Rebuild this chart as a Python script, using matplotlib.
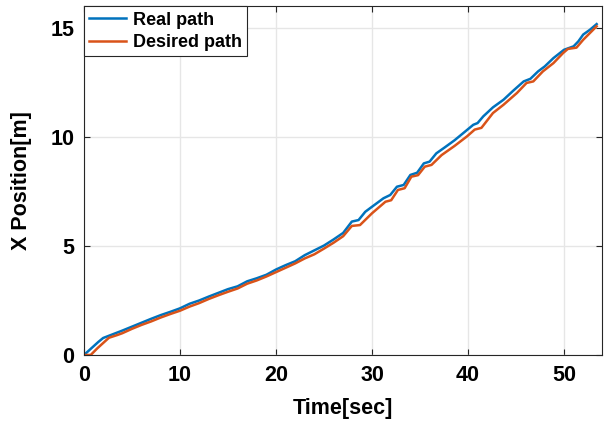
import numpy as np
import matplotlib
matplotlib.use("Agg")
import matplotlib.pyplot as plt

# Real path
t_real = [0, 0.5, 1, 1.5, 2, 3, 4, 5, 6, 7, 8, 9, 10, 11, 12, 13, 14, 15, 16, 17,
          18, 19, 20, 21, 22, 23, 24, 25, 26, 27, 27.9, 28.6, 29.3, 30, 31.2, 31.9,
          32.6, 33.3, 34, 34.7, 35.4, 36, 36.7, 37.6, 38.6, 39.7, 40.55, 41, 41.6,
          42.6, 43.7, 44.7, 45.8, 46.5, 47.3, 48, 48.9, 50, 51, 51.5, 52, 52.7, 53.4]
x_real = [0, 0.2, 0.4, 0.6, 0.78, 0.95, 1.12, 1.3, 1.48, 1.66, 1.83, 1.98, 2.14,
          2.35, 2.5, 2.68, 2.85, 3.02, 3.15, 3.38, 3.52, 3.68, 3.92, 4.12, 4.3,
          4.58, 4.8, 5.02, 5.3, 5.6, 6.12, 6.19, 6.57, 6.8, 7.19, 7.34, 7.72, 7.8,
          8.26, 8.36, 8.79, 8.87, 9.25, 9.53, 9.85, 10.25, 10.56, 10.64, 10.95,
          11.36, 11.71, 12.12, 12.55, 12.67, 13.01, 13.24, 13.62, 14.0, 14.16,
          14.39, 14.7, 14.92, 15.18]

# Desired path
t_des = [0, 0.7, 1.4, 2, 2.6, 3.5, 4, 5, 6, 7, 8, 9, 10, 11, 12, 13, 14, 15, 16,
         17, 18, 19, 20, 21, 22, 23, 24, 25, 26, 27, 27.9, 28.75, 30, 31.4, 32,
         32.7, 33.4, 34.1, 34.8, 35.5, 36.2, 37.25, 38.6, 39.9, 40.7, 41.4, 42.6,
         43.7, 45.1, 46.1, 46.8, 47.8, 48.9, 49.9, 50.4, 51.3, 52, 52.7, 53.4]
x_des = [0, 0, 0.31, 0.55, 0.79, 0.92, 1.0, 1.2, 1.38, 1.54, 1.72, 1.88, 2.03,
         2.22, 2.38, 2.57, 2.74, 2.9, 3.05, 3.27, 3.42, 3.6, 3.8, 4.0, 4.2, 4.43,
         4.62, 4.88, 5.15, 5.45, 5.92, 5.96, 6.5, 7.03, 7.1, 7.57, 7.65, 8.18,
         8.25, 8.64, 8.72, 9.17, 9.59, 10.03, 10.34, 10.42, 11.1, 11.48, 12.02,
         12.48, 12.55, 13.01, 13.39, 13.85, 14.04, 14.1, 14.46, 14.77, 15.08]

plt.rcParams['font.family'] = ['Liberation Sans', 'DejaVu Sans']
plt.rcParams['font.weight'] = 'bold'

fig = plt.figure(figsize=(6.05, 4.23), dpi=100)
ax = fig.add_axes([0.1388, 0.1608, 0.8569, 0.8245])

ax.plot(t_real, x_real, color='#0072BD', linewidth=1.8, label='Real path')
ax.plot(t_des, x_des, color='#D95319', linewidth=1.8, label='Desired path')

ax.set_xlim(0, 54)
ax.set_ylim(0, 16)
ax.set_xticks([0, 10, 20, 30, 40, 50])
ax.set_yticks([0, 5, 10, 15])
ax.grid(True, color='#E6E6E6', linewidth=1.0)
ax.set_axisbelow(True)

for s in ax.spines.values():
    s.set_color('#262626')
    s.set_linewidth(0.8)
ax.tick_params(direction='in', length=4, width=0.8, color='#262626',
               top=True, right=True, labelsize=15.5, pad=7)
for lbl in ax.get_xticklabels() + ax.get_yticklabels():
    lbl.set_fontweight('bold')

ax.set_xlabel('Time[sec]', fontsize=15.5, fontweight='bold', labelpad=9)
ax.set_ylabel('X Position[m]', fontsize=15.5, fontweight='bold', labelpad=13)

leg = ax.legend(loc='upper left', fontsize=13, frameon=True, fancybox=False,
                borderaxespad=0, handlelength=2.0, handletextpad=0.4,
                borderpad=0.3, labelspacing=0.3)
leg.get_frame().set_edgecolor('#262626')
leg.get_frame().set_linewidth(0.8)
leg.get_frame().set_alpha(1)
for txt in leg.get_texts():
    txt.set_fontweight('bold')

fig.savefig('out.png', dpi=100)
